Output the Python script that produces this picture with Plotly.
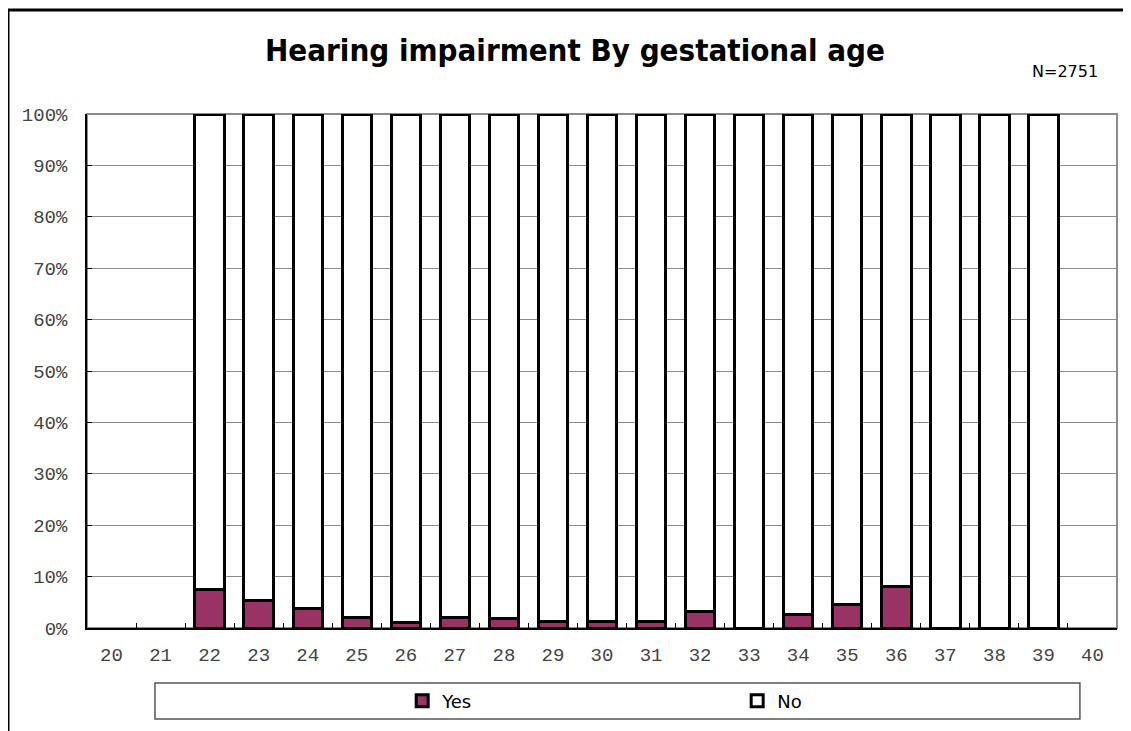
import plotly.graph_objects as go

# idade gestacional (semanas) e porcentagem com deficiencia auditiva
weeks = [str(w) for w in range(20, 41)]
yes_pct = [None, None, 7.4, 5.4, 3.8, 2.0, 1.1, 2.0, 1.8, 1.2, 1.35, 1.2,
           3.2, 0.0, 2.7, 4.5, 8.0, 0.0, 0.0, 0.0, None]
no_pct = [None if v is None else 100 - v for v in yes_pct]

title_text = "Hearing impairment By gestational age"
n_text = "N=2751"

tick_font = dict(family="Liberation Mono", size=19, color="#444444")

bar_yes = go.Bar(x=weeks, y=yes_pct, name="Yes",
                 marker=dict(color="#993366", line=dict(color="black", width=3)))
bar_no = go.Bar(x=weeks, y=no_pct, name="No",
                marker=dict(color="white", line=dict(color="black", width=3)))

layout = go.Layout(
    width=1131, height=731,
    margin=dict(l=79, r=22, t=106, b=111),
    paper_bgcolor="white", plot_bgcolor="white",
    barmode="stack", bargap=0.4,
    title=dict(text="<b>" + title_text + "</b>", x=567 / 1131, xanchor="center",
               y=1 - 42 / 731, yanchor="middle",
               font=dict(family="DejaVu Sans Condensed", size=31, color="black")),
    xaxis=dict(type="category", showgrid=False, showline=True, linecolor="black",
               linewidth=1.5, ticks="inside", tickson="boundaries", ticklen=5,
               tickcolor="black", tickfont=tick_font, ticklabelstandoff=8),
    yaxis=dict(range=[0, 100], dtick=10, ticksuffix="%", showgrid=True,
               gridcolor="#8c8c8c", gridwidth=1, showline=True, linecolor="black",
               linewidth=1.5, ticks="inside", ticklen=5, tickcolor="black",
               tickfont=tick_font, ticklabelstandoff=14, zeroline=False),
    showlegend=True,
    legend=dict(orientation="h", x=0.306, xanchor="left", y=-0.142, yanchor="middle",
                entrywidth=290, itemwidth=30, traceorder="normal",
                font=dict(family="DejaVu Sans", size=18, color="black"),
                bgcolor="rgba(0,0,0,0)"),
    shapes=[
        # borda cinza da area do grafico
        dict(type="rect", xref="paper", yref="paper", x0=0, x1=1, y0=0, y1=1,
             line=dict(color="#8c8c8c", width=2), layer="below"),
        # caixa da legenda
        dict(type="rect", xref="paper", yref="paper", x0=0.066, x1=0.964,
             y0=-0.177, y1=-0.107, line=dict(color="#555555", width=1.5)),
        # moldura externa
        dict(type="path", xref="paper", yref="paper",
             path="M -0.0767,-0.4 L -0.0767,1.2023 L 1.2,1.2023",
             line=dict(color="black", width=3)),
    ],
    annotations=[
        dict(text=n_text, xref="paper", yref="paper", x=(1100 - 87) / 1030,
             xanchor="right", y=(628 - 71) / 514, yanchor="middle", showarrow=False,
             font=dict(family="DejaVu Sans", size=16, color="black")),
    ],
)

fig = go.Figure(data=[bar_yes, bar_no], layout=layout)
fig.write_html("out.html")
